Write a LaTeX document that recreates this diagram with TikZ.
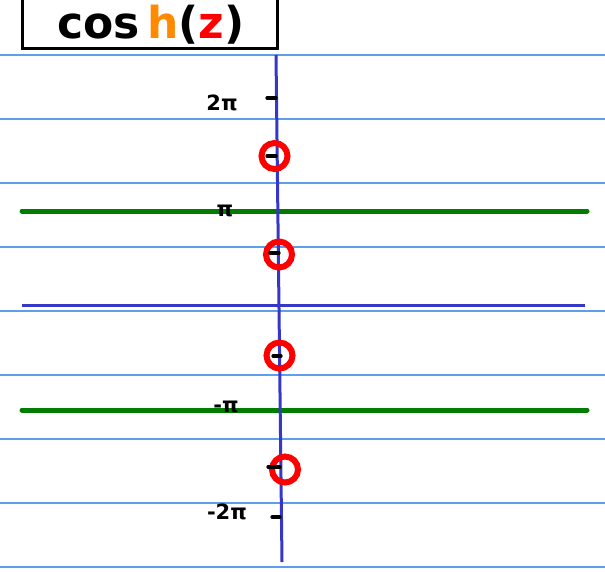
\documentclass[tikz,border=0pt]{standalone}
\usepackage{fontspec}
\setmainfont{DejaVu Sans}
\usetikzlibrary{calc}
\definecolor{ruleblue}{HTML}{5E9EEA}
\definecolor{axisblue}{HTML}{3636C8}
\definecolor{linegreen}{HTML}{007D00}
\definecolor{inkorange}{HTML}{FF8A00}

\begin{document}
\begin{tikzpicture}[x=1pt,y=-1pt]

% ------------------------------------------------------------------
% Page: 605 by 571, y grows downwards like the note page.
% A pole is given as: \pole{name}{x}{y}
% A tick on the axis is given as: \tick{x}{y}{length}
% ------------------------------------------------------------------
\clip (0,0) rectangle (605,571);

\newcommand{\pole}[3]{%
  \node[circle, draw=red, line width=6pt, minimum size=26pt, inner sep=0pt]
    (#1) at (#2,#3) {};
}
\newcommand{\tick}[3]{%
  \draw[black, line width=3.2pt, line cap=round] (#1,#2) -- ++(#3,0);
}

% Ruled lines of the note paper.
\foreach \y in {55,119,...,567}{
  \draw[ruleblue, line width=1.3pt] (0,\y) -- (605,\y);
}

% Title box, cut off by the top of the page.
\draw[black, line width=3pt] (22.5,-5) rectangle (277.5,48);
\node[anchor=base, font=\bfseries\fontsize{44}{46}\selectfont, inner sep=0pt]
  (title) at (151,38)
  {cos\,\textcolor{inkorange}{h}(\textcolor{red}{z})};

% Real axis and the two green lines at +pi and -pi.
\coordinate (reL) at (22,305);
\coordinate (reR) at (585,305);
\coordinate (piL) at (22,211);
\coordinate (piR) at (587,211);
\coordinate (mpiL) at (22,410);
\coordinate (mpiR) at (587,410);
\draw[axisblue, line width=3pt] (reL) -- (reR);
\draw[linegreen, line width=5pt, line cap=round] (piL) -- (piR);
\draw[linegreen, line width=5pt, line cap=round] (mpiL) -- (mpiR);

% Imaginary axis, slightly slanted.
\coordinate (imT) at (276,55);
\coordinate (imB) at (282,562);
\draw[axisblue, line width=3pt] (imT) -- (imB);

% Poles on the imaginary axis.
\pole{p1}{274.5}{156}
\pole{p2}{279}{254.5}
\pole{p3}{279.5}{355.5}
\pole{p4}{285}{469.5}

% Ticks.
\tick{267}{98}{9}
\tick{267}{156}{9}
\tick{270}{253}{9}
\tick{273}{356}{8}
\tick{268}{467}{12}
\tick{272}{517}{8}

% Labels.
\begin{scope}[every node/.style={font=\bfseries\fontsize{21}{23}\selectfont, inner sep=0pt}]
  \node (l2pi) at (222,103) {2π};
  \node (lpi) at (225,211) {π};
  \node (lmpi) at (226,407) {-π};
  \node (lm2pi) at (227,512) {-2π};
\end{scope}

\end{tikzpicture}
\end{document}
